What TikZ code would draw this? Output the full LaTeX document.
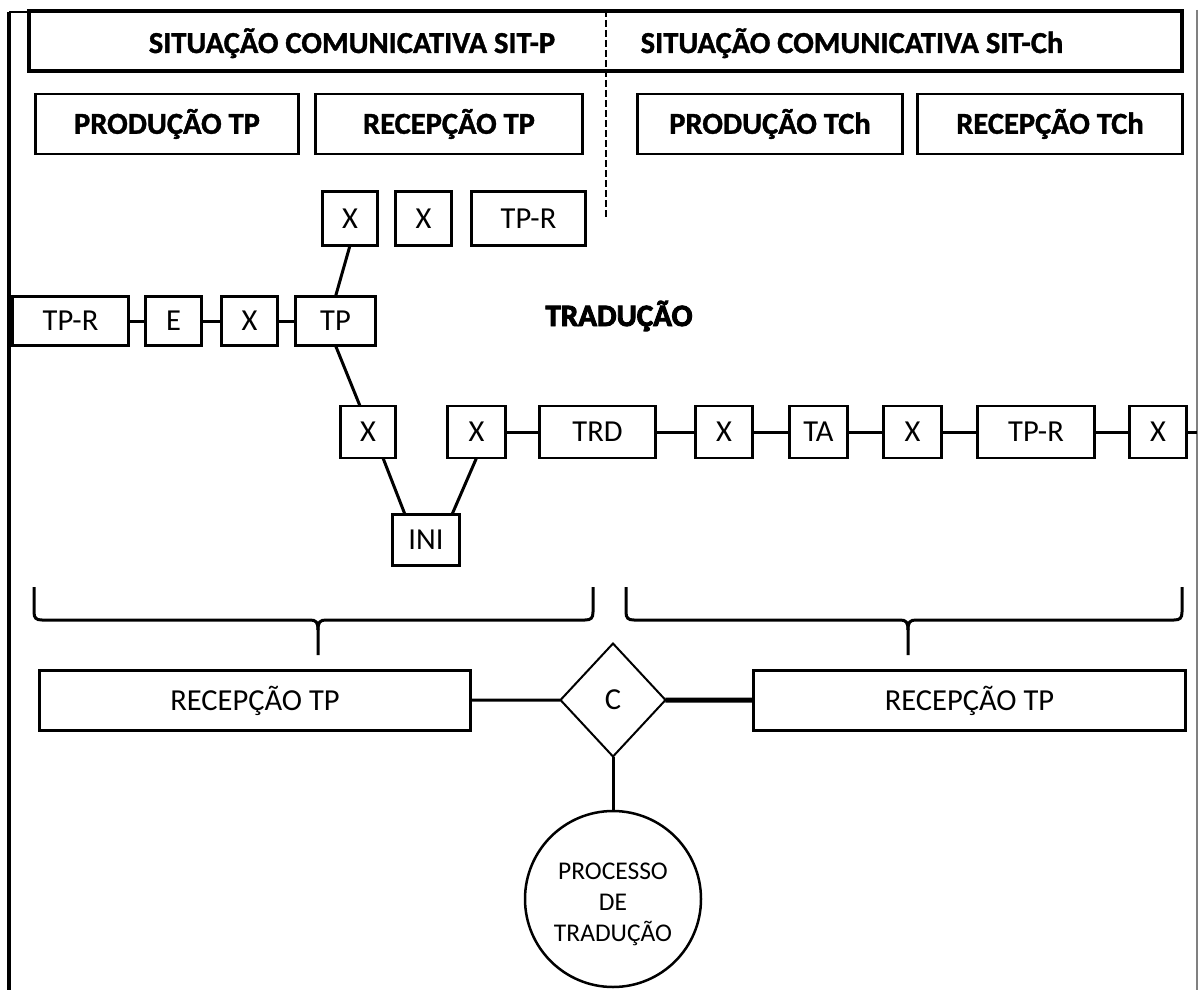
\documentclass[tikz,border=0pt]{standalone}
\usepackage{fontspec}
\setmainfont{Carlito}
\newfontfamily\hdrfont{Carlito}[BoldFeatures={FakeBold=1.2}]
\newfontfamily\heavyfont{Carlito}[BoldFeatures={FakeBold=3}]
\usetikzlibrary{shapes.geometric}

\begin{document}
\begin{tikzpicture}[x=1pt,y=-1pt,
  every node/.style={inner sep=0pt, outer sep=0pt},
  box/.style={draw, line width=2.8pt, fill=white,
    font=\fontsize{30.5}{30.5}\selectfont, text height=19.6pt, text depth=0pt},
  hbox/.style={draw, line width=2.8pt,
    font=\hdrfont\bfseries\fontsize{30.5}{30.5}\selectfont, text height=19.6pt, text depth=0pt},
  htext/.style={font=\hdrfont\bfseries\fontsize{30.5}{30.5}\selectfont, anchor=base},
  link/.style={line width=3pt},
  brace/.style={line width=3pt}
]
\fill[white] (0,0) rectangle (1200,990);
\useasboundingbox (0,0) rectangle (1200,990);

% outer frame
\draw[line width=4pt] (9,12) -- (9,990);
\draw[line width=1.5pt] (9,12) -- (29,12);
\draw[gray, line width=1.5pt] (1197,10) -- (1197,990);

% header strip with its two situations
\node[draw, line width=3.5pt, minimum width=1153, minimum height=60] (hdr) at (605.5,41) {};
\draw[line width=2pt, dash pattern=on 7pt off 3pt] (606,10) -- (606,220);
\node[htext] (sitp) at (352,53) {SITUAÇÃO COMUNICATIVA SIT-P};
\node[htext] (sitch) at (852,53) {SITUAÇÃO COMUNICATIVA SIT-Ch};

% production / reception boxes
\node[hbox, minimum width=263, minimum height=60] (ptp) at (167,124) {PRODUÇÃO TP};
\node[hbox, minimum width=267, minimum height=60] (rtp) at (449,124) {RECEPÇÃO TP};
\node[hbox, minimum width=265, minimum height=60] (ptch) at (770,124) {PRODUÇÃO TCh};
\node[hbox, minimum width=265, minimum height=60] (rtch) at (1050,124) {RECEPÇÃO TCh};

% upper small boxes
\node[box, minimum width=55, minimum height=54] (xa1) at (350,218.5) {X};
\node[box, minimum width=56, minimum height=54] (xa2) at (423.5,218.5) {X};
\node[box, minimum width=114, minimum height=54] (tpra) at (528.5,218.5) {TP-R};

% production chain
\node[box, minimum width=116, minimum height=49] (tprb) at (70.5,321) {TP-R};
\node[box, minimum width=56, minimum height=49] (e) at (173.5,321) {E};
\node[box, minimum width=56, minimum height=49] (xc) at (249.5,321) {X};
\node[box, minimum width=80, minimum height=49] (tp) at (335.5,321) {TP};

\node[font=\heavyfont\bfseries\fontsize{31}{31}\selectfont, anchor=base] (trad) at (619,326) {TRADUÇÃO};

% translation chain
\node[box, minimum width=55, minimum height=52] (xb1) at (368,432) {X};
\node[box, minimum width=58, minimum height=52] (xb2) at (476.5,432) {X};
\node[box, minimum width=116, minimum height=52] (trd) at (597.5,432) {TRD};
\node[box, minimum width=57, minimum height=52] (xb3) at (724,432) {X};
\node[box, minimum width=58, minimum height=52] (ta) at (818.5,432) {TA};
\node[box, minimum width=58, minimum height=52] (xb4) at (912.5,432) {X};
\node[box, minimum width=117, minimum height=52] (tprc) at (1036,432) {TP-R};
\node[box, minimum width=57, minimum height=52] (xb5) at (1158,432) {X};
\coordinate (redge) at (1197,432);

\node[box, minimum width=67, minimum height=51] (ini) at (426,540) {INI};

% connectors
\draw[link] (tprb) -- (e);
\draw[link] (e) -- (xc);
\draw[link] (xc) -- (tp);
\draw[link] (tp.north) -- (xa1.south);
\draw[link] (tp.south) -- ([xshift=-8pt]xb1.north);
\draw[link] ([xshift=15pt]xb1.south) -- ([xshift=-21pt]ini.north);
\draw[link] (xb2.south) -- ([xshift=26pt]ini.north);
\draw[link] (xb2) -- (trd);
\draw[link] (trd) -- (xb3);
\draw[link] (xb3) -- (ta);
\draw[link] (ta) -- (xb4);
\draw[link] (xb4) -- (tprc);
\draw[link] (tprc) -- (xb5);
\draw[link] (xb5) -- (redge);

% braces
\draw[brace] (34,587) -- (34,612) .. controls (34,618) and (36,620) .. (42,620)
  -- (310,620) .. controls (316,620) and (318,622) .. (318,630) -- (318,655);
\draw[brace] (593,587) -- (593,612) .. controls (593,618) and (591,620) .. (585,620)
  -- (326,620) .. controls (320,620) and (318,622) .. (318,630);
\draw[brace] (626,587) -- (626,612) .. controls (626,618) and (628,620) .. (634,620)
  -- (900,620) .. controls (906,620) and (908,622) .. (908,630) -- (908,655);
\draw[brace] (1182,587) -- (1182,612) .. controls (1182,618) and (1180,620) .. (1174,620)
  -- (916,620) .. controls (910,620) and (908,622) .. (908,630);

% reception boxes, comparison and process
\node[box, minimum width=431, minimum height=60] (recl) at (255,700.5) {RECEPÇÃO TP};
\node[box, minimum width=432, minimum height=60] (recr) at (969.5,700.5) {RECEPÇÃO TP};
\node[diamond, draw, line width=2pt, minimum width=105, minimum height=113,
  font=\fontsize{30.5}{30.5}\selectfont] (c) at (613,700) {C};
\node[circle, draw, line width=2.5pt, minimum size=176] (proc) at (613,899) {};
\node[align=center, font=\fontsize{25.5}{31}\selectfont] (proctext) at (613,904)
  {PROCESSO\\DE\\TRADUÇÃO};

\draw[link] (recl) -- (c);
\draw[line width=5pt] (c) -- (recr);
\draw[link] (c.south) -- (proc.north);
\end{tikzpicture}
\end{document}
